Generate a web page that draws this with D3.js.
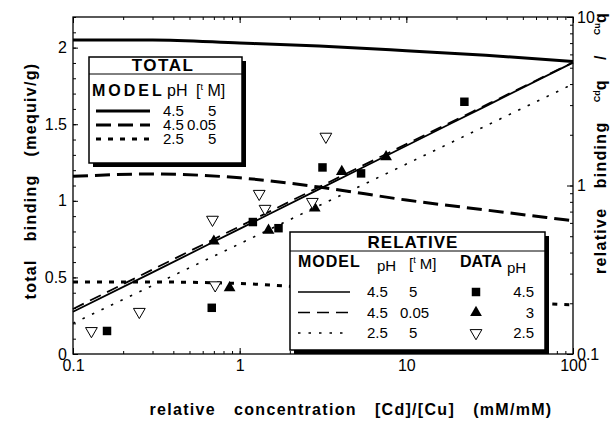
<!DOCTYPE html>
<html>
<head>
<meta charset="utf-8">
<script src="https://cdn.jsdelivr.net/npm/d3@7.9.0/dist/d3.min.js"></script>
<style>
  body { margin: 0; background: #fff; }
  svg text { font-family: "Liberation Sans", Arial, Helvetica, sans-serif; fill: #000; white-space: pre; }
  .axis text { font-size: 16px; }
  .title { font-weight: bold; font-size: 16px; letter-spacing: 1.3px; }
</style>
</head>
<body>
<svg id="chart" width="616" height="421"></svg>
<script>
// model curves
const xModel = [0.1, 0.3, 1, 3, 10, 30, 100];
const totalSolid  = [2.05, 2.05, 2.03, 2.01, 1.98, 1.95, 1.91];
const totalDashed = [1.16, 1.175, 1.15, 1.09, 1.005, 0.94, 0.87];
const totalDotted = [0.47, 0.47, 0.46, 0.43, 0.39, 0.35, 0.32];
const relSolid  = [0.178, 0.305, 0.553, 0.952, 1.72, 2.96, 5.36];
const relDashed = [0.185, 0.317, 0.572, 0.98, 1.76, 3.0, 5.38];
const relDotted = [0.152, 0.255, 0.451, 0.76, 1.34, 2.26, 4.0];

// measured points (relative binding)
const ph45x = [0.16, 0.68, 1.20, 1.71, 3.14, 5.35, 22.3];
const ph45y = [0.137, 0.188, 0.607, 0.558, 1.28, 1.18, 3.14];
const ph3x  = [0.70, 0.87, 1.49, 2.82, 4.10, 7.56];
const ph3y  = [0.467, 0.247, 0.542, 0.734, 1.21, 1.48];
const ph25x = [0.129, 0.25, 0.687, 0.713, 1.31, 1.42, 2.73, 3.29];
const ph25y = [0.137, 0.178, 0.627, 0.256, 0.893, 0.728, 0.80, 1.95];

// ticks and legend text
const xMajor = [0.1, 1, 10, 100];
const yLeftMajor = [0, 0.5, 1, 1.5, 2];
const yRightMajor = [0.1, 1, 10];
const legendPH = ['4.5', '4.5', '2.5'];
const legendTM = ['5', '0.05', '5'];
const dataPH = ['4.5', '3', '2.5'];

const svg = d3.select('#chart');
svg.append('rect').attr('width', 616).attr('height', 421).attr('fill', '#fff');

const x = d3.scaleLog().domain([0.1, 100]).range([73, 573]);
const yL = d3.scaleLinear().domain([0, 2.2]).range([354, 17]);
const yR = d3.scaleLog().domain([0.1, 10]).range([354, 17]);

// axes: inward ticks
function addAxis(axis, tx, ty) {
  let g = svg.append('g').attr('class', 'axis').attr('transform', `translate(${tx},${ty})`).call(axis);
  g.select('.domain').remove();
  g.selectAll('line').attr('stroke', '#000').attr('stroke-width', 1);
  return g;
}
const fmt = d => String(d);
addAxis(d3.axisBottom(x).tickValues(xMajor).tickSize(-6).tickPadding(6).tickFormat(fmt), 0, 354);
addAxis(d3.axisBottom(x).tickValues(x.ticks()).tickSize(-3).tickFormat(''), 0, 354);
addAxis(d3.axisTop(x).tickValues(xMajor).tickSize(-6).tickFormat(''), 0, 17);
addAxis(d3.axisTop(x).tickValues(x.ticks()).tickSize(-3).tickFormat(''), 0, 17);
addAxis(d3.axisLeft(yL).tickValues(yLeftMajor).tickSize(-5).tickPadding(6).tickFormat(fmt), 73, 0);
addAxis(d3.axisLeft(yL).tickValues(d3.range(0, 2.21, 0.1)).tickSize(-3).tickFormat(''), 73, 0);
addAxis(d3.axisRight(yR).tickValues(yRightMajor).tickSize(-6).tickPadding(4).tickFormat(fmt), 573, 0);
addAxis(d3.axisRight(yR).tickValues(yR.ticks()).tickSize(-3).tickFormat(''), 573, 0);

svg.append('rect').attr('x', 73).attr('y', 17).attr('width', 500).attr('height', 337)
  .attr('fill', 'none').attr('stroke', '#000').attr('stroke-width', 1.3);

// model lines
const plot = svg.append('g');
function drawLine(vals, yScale, width, dash) {
  let line = d3.line().x(d => x(d[0])).y(d => yScale(d[1])).curve(d3.curveMonotoneX);
  plot.append('path')
    .attr('d', line(xModel.map((v, i) => [v, vals[i]])))
    .attr('fill', 'none').attr('stroke', '#000')
    .attr('stroke-width', width).attr('stroke-dasharray', dash);
}
drawLine(totalSolid, yL, 3, null);
drawLine(totalDashed, yL, 3, '15,7');
drawLine(totalDotted, yL, 3, '5,7');
drawLine(relSolid, yR, 1.8, null);
drawLine(relDashed, yR, 1.8, '12,7');
drawLine(relDotted, yR, 1.6, '2.5,8');

// data markers
const sq = d3.symbol().type(d3.symbolSquare).size(72);
const tri = d3.symbol().type(d3.symbolTriangle).size(60);
ph45x.forEach((v, i) => {
  plot.append('path').attr('d', sq()).attr('transform', `translate(${x(v)},${yR(ph45y[i])})`).attr('fill', '#000');
});
ph3x.forEach((v, i) => {
  plot.append('path').attr('d', tri()).attr('transform', `translate(${x(v)},${yR(ph3y[i])})`).attr('fill', '#000');
});
ph25x.forEach((v, i) => {
  plot.append('path').attr('d', tri()).attr('transform', `translate(${x(v)},${yR(ph25y[i])}) rotate(180)`)
    .attr('fill', '#fff').attr('stroke', '#000').attr('stroke-width', 1);
});

// legend helpers
function box(x0, y0, w, h) {
  svg.append('rect').attr('x', x0 + 4).attr('y', y0 + 4).attr('width', w).attr('height', h).attr('fill', '#000');
  svg.append('rect').attr('x', x0).attr('y', y0).attr('width', w).attr('height', h)
    .attr('fill', '#fff').attr('stroke', '#000').attr('stroke-width', 1.5);
}
function tm(x0, y0, size) {
  let tx = svg.append('text').attr('x', x0).attr('y', y0).style('font-size', size + 'px');
  tx.append('tspan').text('[');
  tx.append('tspan').text('t').style('font-size', '9px').attr('dy', -6);
  tx.append('tspan').text(' M]').attr('dy', 6);
}

// TOTAL legend
box(89, 57, 153, 106);
svg.append('text').attr('x', 163).attr('y', 71).attr('text-anchor', 'middle')
  .style('font-size', '17px').style('font-weight', 'bold').style('letter-spacing', '1.5px').text('TOTAL');
svg.append('line').attr('x1', 89).attr('x2', 242).attr('y1', 74).attr('y2', 74).attr('stroke', '#000').attr('stroke-width', 1);
svg.append('text').attr('x', 92).attr('y', 96).style('font-size', '16px').style('font-weight', 'bold')
  .style('letter-spacing', '3px').text('MODEL');
svg.append('text').attr('x', 167).attr('y', 96).style('font-size', '16px').text('pH');
tm(196, 96, 16);
const totDash = [null, '15,7', '5,7'];
legendPH.forEach((p, i) => {
  let yy = 111 + i * 14;
  svg.append('line').attr('x1', 96).attr('x2', 150).attr('y1', yy).attr('y2', yy)
    .attr('stroke', '#000').attr('stroke-width', 3).attr('stroke-dasharray', totDash[i]);
  svg.append('text').attr('x', 163).attr('y', yy + 5).style('font-size', '15px').text(p);
  svg.append('text').attr('x', legendTM[i] === '0.05' ? 187 : 208).attr('y', yy + 5).style('font-size', '15px').text(legendTM[i]);
});

// RELATIVE legend
box(290, 232, 255, 118);
svg.append('text').attr('x', 413).attr('y', 248).attr('text-anchor', 'middle')
  .style('font-size', '17px').style('font-weight', 'bold').style('letter-spacing', '1px').text('RELATIVE');
svg.append('line').attr('x1', 290).attr('x2', 545).attr('y1', 251).attr('y2', 251).attr('stroke', '#000').attr('stroke-width', 1);
svg.append('text').attr('x', 298).attr('y', 267).style('font-size', '16px').style('font-weight', 'bold')
  .style('letter-spacing', '1px').text('MODEL');
svg.append('text').attr('x', 377).attr('y', 271).style('font-size', '15px').text('pH');
tm(409, 269, 15);
svg.append('text').attr('x', 460).attr('y', 267).style('font-size', '16px').style('font-weight', 'bold').text('DATA');
svg.append('text').attr('x', 507).attr('y', 273).style('font-size', '15px').text('pH');
const relDash = [null, '12,7', '2.5,8'];
const markers = [
  g => g.append('path').attr('d', sq()).attr('fill', '#000'),
  g => g.append('path').attr('d', tri()).attr('fill', '#000'),
  g => g.append('path').attr('d', tri()).attr('transform', 'rotate(180)').attr('fill', '#fff').attr('stroke', '#000')
];
legendPH.forEach((p, i) => {
  let yy = 292 + i * 20.5;
  svg.append('line').attr('x1', 298).attr('x2', 350).attr('y1', yy).attr('y2', yy)
    .attr('stroke', '#000').attr('stroke-width', 1.6).attr('stroke-dasharray', relDash[i]);
  svg.append('text').attr('x', 367).attr('y', yy + 5).style('font-size', '15px').text(p);
  svg.append('text').attr('x', legendTM[i] === '0.05' ? 400 : 409).attr('y', yy + 5).style('font-size', '15px').text(legendTM[i]);
  markers[i](svg.append('g').attr('transform', `translate(476,${yy})`));
  svg.append('text').attr('x', 534).attr('y', yy + 5).attr('text-anchor', 'end').style('font-size', '15px').text(dataPH[i]);
});

// axis titles, widened to the span they take in the picture
function spread(t, target) {
  let len = t.node().getComputedTextLength();
  let spaces = (t.text().match(/ /g) || []).length;
  t.style('word-spacing', Math.max(0, (target - len) / spaces) + 'px');
}
let lt = svg.append('text').attr('class', 'title').attr('text-anchor', 'middle')
  .attr('transform', 'translate(36,181) rotate(-90)').text('total binding (mequiv/g)');
spread(lt, 237);
let rt = svg.append('text').attr('class', 'title').attr('text-anchor', 'middle')
  .attr('transform', 'translate(606,143) rotate(-90)');
rt.append('tspan').text('relative binding ');
rt.append('tspan').text('Cd').style('font-size', '9px').attr('dy', -6).style('letter-spacing', '0px');
rt.append('tspan').text('q / ').attr('dy', 6);
rt.append('tspan').text('Cu').style('font-size', '9px').attr('dy', -6).style('letter-spacing', '0px');
rt.append('tspan').text('q').attr('dy', 6);
spread(rt, 262);
let bt = svg.append('text').attr('class', 'title').attr('text-anchor', 'middle').attr('x', 351).attr('y', 415)
  .text('relative concentration [Cd]/[Cu] (mM/mM)');
spread(bt, 403);
</script>
</body>
</html>
